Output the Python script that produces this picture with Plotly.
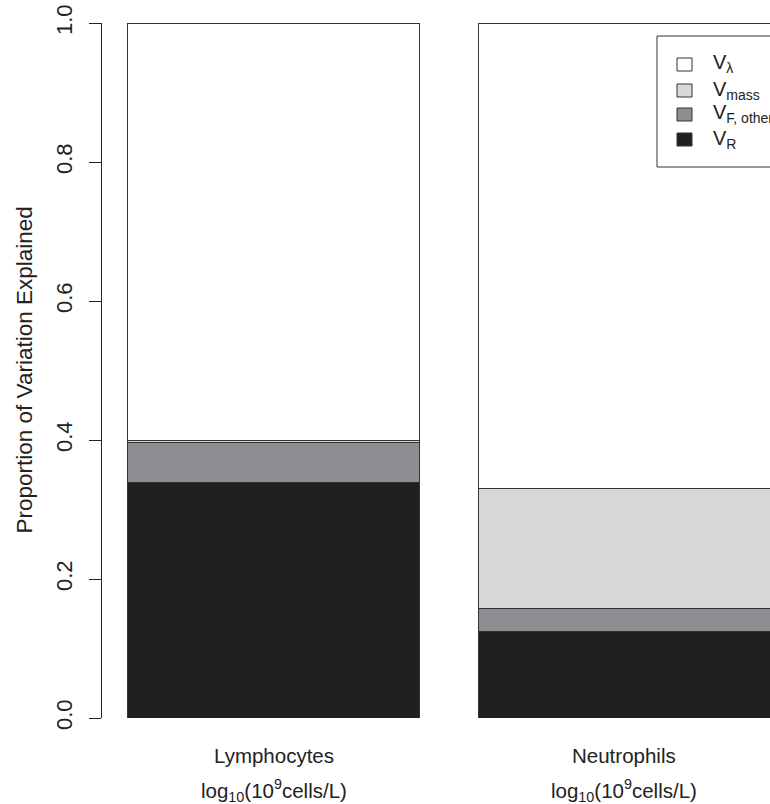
import plotly.graph_objects as go

# ---- data ----
categories = ["Lymphocytes", "Neutrophils"]
units = ["log<sub>10</sub>(10<sup>9</sup>cells/L)", "log<sub>10</sub>(10<sup>9</sup>cells/L)"]
bar_pos = [0.7, 1.9]
V_R = [0.339, 0.125]
V_F_other = [0.057, 0.032]
V_mass = [0.003, 0.173]
V_lambda = [0.601, 0.670]
series_names = ["V<sub>R</sub>", "V<sub>F, other</sub>", "V<sub>mass</sub>", "V<sub>λ</sub>"]
series_values = [V_R, V_F_other, V_mass, V_lambda]
series_colors = ["#221f20", "#8e8f93", "#d7d8da", "#ffffff"]
y_ticks = [0.0, 0.2, 0.4, 0.6, 0.8, 1.0]

# ---- geometry (pixels) ----
FW, FH = 770, 804
L, R, T, B = 102, 770, 23, 718
W, H = R - L, B - T
FONT = "Liberation Sans, Arial, Helvetica, sans-serif"
TXT = "#222222"


def pxx(px):
    return (px - L) / W


def pxy(py):
    return (B - py) / H


fig = go.Figure()
for name, vals, col in zip(series_names, series_values, series_colors):
    fig.add_trace(go.Bar(
        x=bar_pos, y=vals, width=1.0, name=name,
        marker=dict(color=col, line=dict(color="#333333", width=1)),
        showlegend=False, hoverinfo="skip"))

annotations = []
# category labels and units under bars
for xp, cat, un in zip(bar_pos, categories, units):
    annotations.append(dict(x=xp, y=pxy(755), xref="x", yref="paper", text=cat,
                            showarrow=False, xanchor="center", yanchor="middle",
                            font=dict(family=FONT, size=20.5, color=TXT)))
    annotations.append(dict(x=xp, y=pxy(790), xref="x", yref="paper", text=un,
                            showarrow=False, xanchor="center", yanchor="middle",
                            font=dict(family=FONT, size=20.5, color=TXT)))

# y-axis title
annotations.append(dict(x=pxx(24), y=0.5, xref="paper", yref="paper",
                        text="Proportion of Variation Explained", textangle=-90,
                        showarrow=False, xanchor="center", yanchor="middle",
                        font=dict(family=FONT, size=22.5, color=TXT)))

# manual legend (clipped at right edge like the reference)
shapes = [dict(type="rect", xref="paper", yref="paper",
               x0=pxx(657), x1=pxx(830), y0=pxy(167), y1=pxy(36),
               line=dict(color="#333333", width=1), fillcolor="white", layer="above")]
legend_rows = [64, 90, 114, 139]
legend_order = [3, 2, 1, 0]
for row_y, idx in zip(legend_rows, legend_order):
    shapes.append(dict(type="rect", xref="paper", yref="paper",
                       x0=pxx(677), x1=pxx(692), y0=pxy(row_y + 7), y1=pxy(row_y - 6),
                       line=dict(color="#333333", width=1),
                       fillcolor=series_colors[idx], layer="above"))
    annotations.append(dict(x=pxx(711), y=pxy(row_y), xref="paper", yref="paper",
                            text=series_names[idx], showarrow=False,
                            xanchor="left", yanchor="middle",
                            font=dict(family=FONT, size=20, color=TXT)))

fig.update_layout(
    width=FW, height=FH,
    margin=dict(l=L, r=FW - R, t=T, b=FH - B, pad=0),
    paper_bgcolor="white", plot_bgcolor="white",
    barmode="stack", bargap=0,
    xaxis=dict(range=[0.112, 2.40], visible=False, fixedrange=True),
    yaxis=dict(range=[0, 1], tickvals=y_ticks, tickformat=".1f",
               ticks="outside", ticklen=12, tickwidth=1, tickcolor="#222",
               showline=True, linecolor="#222", linewidth=1,
               showgrid=False, zeroline=False, tickangle=-90,
               ticklabelstandoff=8, fixedrange=True,
               tickfont=dict(family=FONT, size=22, color=TXT)),
    shapes=shapes, annotations=annotations,
    showlegend=False,
)

fig.write_html(
    "out.html",
    config={"displayModeBar": False, "staticPlot": True},
    post_script="document.body.style.margin='0';document.body.style.overflow='hidden';",
)
